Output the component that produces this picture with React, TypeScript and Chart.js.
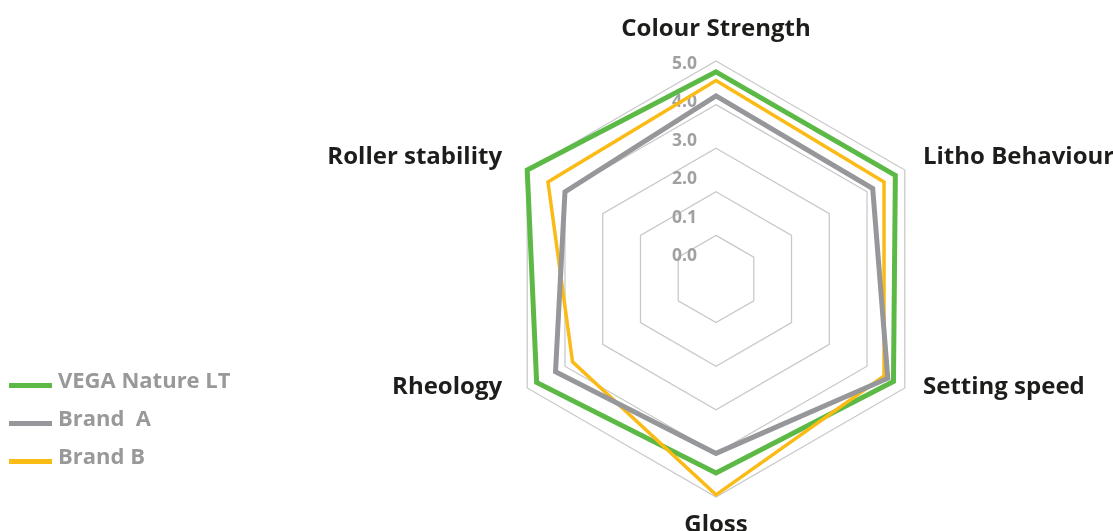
import React, { useEffect, useRef } from 'react';
import { Chart, registerables } from 'chart.js';

Chart.register(...registerables);

const categories = ['Colour Strength', 'Litho Behaviour', 'Setting speed', 'Gloss', 'Rheology', 'Roller stability'];
const vegaNatureLT = [4.75, 4.75, 4.7, 4.45, 4.75, 5.0];
const brandA = [4.2, 4.15, 4.55, 4.0, 4.25, 4.0];
const brandB = [4.55, 4.45, 4.45, 4.95, 3.8, 4.45];
const seriesNames = ['VEGA Nature LT', 'Brand  A', 'Brand B'];
const seriesColors = ['#5cb946', '#96979a', '#fbbb16'];
const tickLabels = ['0.0', '0.1', '2.0', '3.0', '4.0', '5.0'];

const tickTextPlugin = {
  id: 'tickText',
  beforeDatasetsDraw(chart: any) {
    const s = chart.scales.r;
    const ctx = chart.ctx;
    const cx = s.xCenter, cy = s.yCenter, R = s.drawingArea;
    ctx.save();
    ctx.font = '700 17.5px "Open Sans"';
    ctx.fillStyle = '#a0a0a0';
    ctx.textAlign = 'right';
    ctx.textBaseline = 'alphabetic';
    tickLabels.forEach((t, k) => {
      const yc = cy - R * (0.109 + 0.177 * k);
      ctx.fillText(t, cx - 19, yc + (0.714 * 17.5) / 2);
    });
    ctx.restore();
  },
};

const pointTextPlugin = {
  id: 'pointText',
  afterDatasetsDraw(chart: any) {
    const s = chart.scales.r;
    const ctx = chart.ctx;
    const cx = s.xCenter, cy = s.yCenter, R = s.drawingArea;
    ctx.save();
    ctx.font = '700 24px "Open Sans"';
    ctx.fillStyle = '#1d1d1b';
    ctx.textBaseline = 'alphabetic';
    (chart.data.labels as string[]).forEach((lab, i) => {
      const probe = s.getPointPosition(i, R);
      const isCenter = Math.abs(probe.x - cx) < 1;
      const isRight = probe.x > cx;
      const gap = isCenter ? 21 : isRight ? 21 : 29;
      const px = s.getPointPosition(i, R + gap).x;
      const py = s.getPointPosition(i, R + 21).y;
      let dy: number;
      if (isCenter) {
        ctx.textAlign = 'center';
        dy = py < cy ? -4 : 13.5;
      } else {
        ctx.textAlign = isRight ? 'left' : 'right';
        dy = py < cy ? 4 : -5;
      }
      ctx.fillText(lab, px, py + dy);
    });
    ctx.restore();
  },
};

export default function App() {
  const ref = useRef<HTMLCanvasElement>(null);

  useEffect(() => {
    if (!ref.current) return;
    const datasets = [
      { label: seriesNames[0], data: vegaNatureLT, borderColor: seriesColors[0], borderWidth: 5, order: 3 },
      { label: seriesNames[1], data: brandA, borderColor: seriesColors[1], borderWidth: 5, order: 1 },
      { label: seriesNames[2], data: brandB, borderColor: seriesColors[2], borderWidth: 3.5, order: 2 },
    ].map((d) => ({
      ...d,
      backgroundColor: 'transparent',
      fill: false,
      pointRadius: 0,
      pointHoverRadius: 0,
      tension: 0,
      borderJoinStyle: 'miter' as const,
    }));

    const chart = new Chart(ref.current, {
      type: 'radar',
      data: { labels: categories, datasets },
      options: {
        responsive: false,
        animation: false,
        devicePixelRatio: 1,
        layout: { padding: { left: 498, right: 179, top: 61, bottom: 34 } },
        plugins: {
          legend: { display: false },
          tooltip: { enabled: false },
        },
        scales: {
          r: {
            min: 0,
            max: 5,
            ticks: { stepSize: 1, display: false },
            pointLabels: { display: false },
            angleLines: { display: false },
            grid: { color: '#c8c8c8', lineWidth: 1.25, circular: false },
          },
        },
      },
      plugins: [tickTextPlugin, pointTextPlugin],
    });
    return () => chart.destroy();
  }, []);

  return (
    <div
      style={{
        position: 'fixed',
        left: 0,
        top: 0,
        width: 1113,
        height: 531,
        overflow: 'hidden',
        background: '#ffffff',
      }}
    >
      <canvas
        ref={ref}
        width={1113}
        height={531}
        style={{ position: 'absolute', left: 0, top: 0, width: 1113, height: 531 }}
      />
      <div
        style={{
          position: 'absolute',
          left: 9,
          top: 360,
          fontFamily: '"Open Sans", sans-serif',
          fontWeight: 700,
          fontSize: 22,
          color: '#999999',
        }}
      >
        {seriesNames.map((n, i) => (
          <div key={n} style={{ position: 'relative', height: 38, lineHeight: '38px', whiteSpace: 'pre', width: 260 }}>
            <span
              style={{
                position: 'absolute',
                left: 0,
                top: 23,
                width: 43,
                height: 5,
                background: seriesColors[i],
              }}
            />
            <span style={{ position: 'absolute', left: 49, top: 0 }}>{n}</span>
          </div>
        ))}
      </div>
    </div>
  );
}
